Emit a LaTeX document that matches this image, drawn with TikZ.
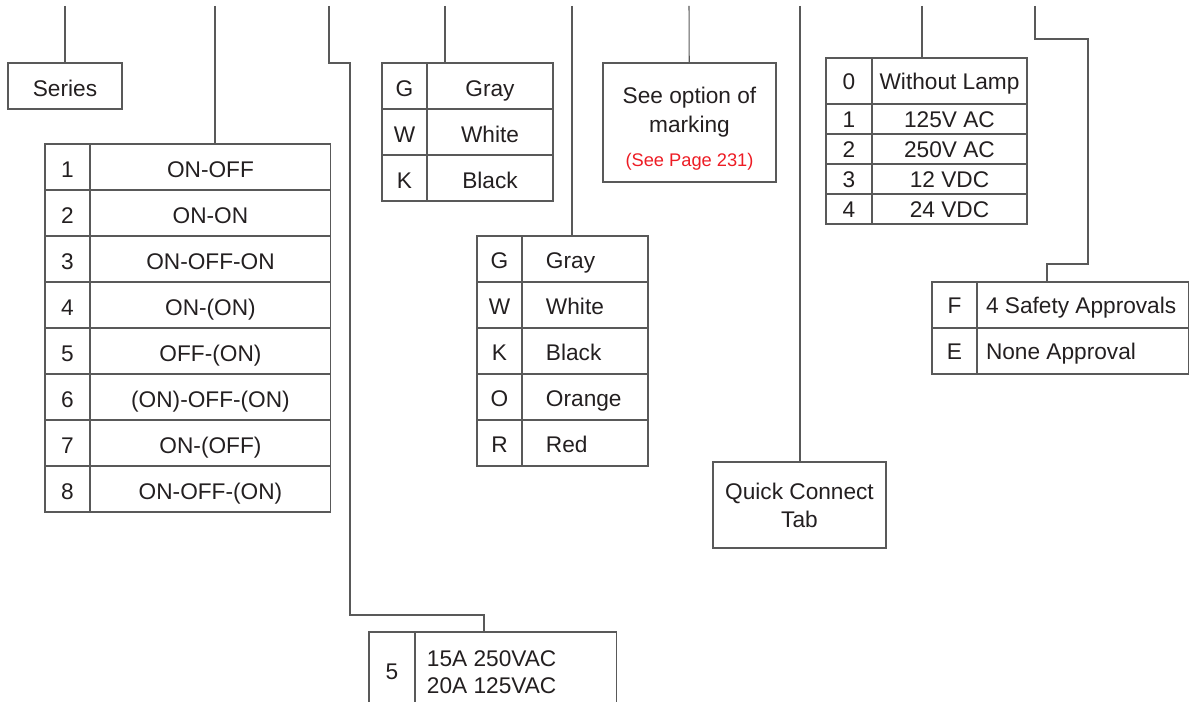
\documentclass[tikz,border=0pt]{standalone}
\usepackage{fontspec}
\setmainfont{Liberation Sans}
\usetikzlibrary{positioning}
\definecolor{inkgray}{RGB}{35,31,32}
\definecolor{pagered}{RGB}{237,28,36}
\begin{document}
\begin{tikzpicture}[x=0.02cm,y=-0.02cm,
    font=\fontsize{12.9}{15.4}\selectfont, text=inkgray,
    frame/.style={draw=black!65, line width=0.6pt, inner sep=0pt, outer sep=0pt},
    cell/.style={frame, text height=11.4pt, text depth=0pt},
    midcell/.style={frame, text height=9.4pt, text depth=0pt},
    keycell/.style={cell, minimum width=0.9cm, minimum height=0.92cm},
    lefttext/.style={execute at begin node={\spaceskip=0pt\xspaceskip=0pt}},
    wire/.style={draw=black!65, line width=0.6pt}]
  \useasboundingbox (0,0) rectangle (1190,702);
  % free ends at the top
  \coordinate (c1) at (65,6);
  \coordinate (c2) at (215,6);
  \coordinate (c3) at (329,6);
  \coordinate (c4) at (445,6);
  \coordinate (c5) at (572,6);
  \coordinate (c6) at (689,6);
  \coordinate (c7) at (800,6);
  \coordinate (c8) at (922,6);
  \coordinate (c9) at (1035,6);
  \coordinate (b3a) at (350,63);
  \coordinate (b3b) at (484,615);
  \coordinate (b9a) at (1088,39);
  \coordinate (b9b) at (1047,264);

  \node[cell, minimum width=2.28cm, minimum height=0.92cm] (series) at (65,86) {Series};

  % switch function
  \foreach \k/\t [count=\i] in {1/ON-OFF, 2/ON-ON, 3/ON-OFF-ON, 4/ON-(ON),
      5/OFF-(ON), 6/(ON)-OFF-(ON), 7/ON-(OFF), 8/ON-OFF-(ON)} {
    \node[keycell] (sw\k) at (67.5,{167+46*(\i-1)}) {\k};
    \node[cell, minimum width=4.82cm, minimum height=0.92cm, right=0pt of sw\k] (swv\k) {\t};
  }

  % rating
  \node[frame, minimum width=0.92cm, minimum height=1.6cm] (rate) at (392,672) {5};
  \node[frame, lefttext, minimum width=4.04cm, minimum height=1.6cm, inner xsep=0.24cm,
    text width=3.56cm, right=0pt of rate] (ratev) {15A 250VAC\\20A 125VAC};

  % housing colour
  \foreach \k/\t [count=\i] in {G/Gray, W/White, K/Black} {
    \node[keycell] (hc\k) at (404.5,{86+46*(\i-1)}) {\k};
    \node[cell, minimum width=2.52cm, minimum height=0.92cm, right=0pt of hc\k] (hcv\k) {\t};
  }

  % actuator colour
  \foreach \k/\t [count=\i] in {G/Gray, W/White, K/Black, O/Orange, R/Red} {
    \node[keycell, text height=10.5pt] (ac\k) at (499.5,{259+46*(\i-1)}) {\k};
    \node[cell, text height=10.5pt, minimum width=2.52cm, minimum height=0.92cm, inner xsep=0.48cm,
      text width=1.56cm, right=0pt of ac\k] (acv\k) {\t};
  }

  \node[frame, minimum width=3.46cm, minimum height=2.38cm, align=center] (mark) at (689.5,122.5)
    {\rule{0pt}{16pt}See option of\\[1pt]marking\\[4pt]{\color{pagered}\fontsize{10.4}{12}\selectfont(See Page 231)}};

  \node[frame, minimum width=3.46cm, minimum height=1.72cm, align=center] (tab) at (799.5,505)
    {Quick Connect\\[0.6pt]Tab};

  % lamp
  \node[midcell, minimum width=0.92cm, minimum height=0.92cm] (lamp0) at (849,81) {0};
  \node[midcell, minimum width=3.1cm, minimum height=0.92cm, right=0pt of lamp0] (lampv0) {Without Lamp};
  \foreach \k/\t [count=\i] in {1/125V AC, 2/250V AC, 3/12 VDC, 4/24 VDC} {
    \node[midcell, minimum width=0.92cm, minimum height=0.6cm] (lamp\k) at (849,{119+30*(\i-1)}) {\k};
    \node[midcell, minimum width=3.1cm, minimum height=0.6cm, right=0pt of lamp\k] (lampv\k) {\t};
  }

  % approvals
  \foreach \k/\t [count=\i] in {F/4 Safety Approvals, E/None Approval} {
    \node[midcell, minimum width=0.9cm, minimum height=0.92cm] (ap\k) at (954.5,{305+46*(\i-1)}) {\k};
    \node[midcell, lefttext, minimum width=4.24cm, minimum height=0.92cm, inner xsep=0.18cm,
      text width=3.88cm, right=0pt of ap\k] (apv\k) {\t};
  }

  \draw[wire] (c1) -- (series);
  \draw[wire] (c2) -- (c2 |- swv1.north);
  \draw[wire] (c3) |- (b3a) |- (b3b) -- (b3b |- ratev.north);
  \draw[wire] (c4) -- (c4 |- hcvG.north);
  \draw[wire] (c5) -- (c5 |- acvG.north);
  \draw[wire] (c6) -- (mark);
  \draw[wire] (c7) -- (c7 |- tab.north);
  \draw[wire] (c8) -- (c8 |- lampv0.north);
  \draw[wire] (c9) |- (b9a) |- (b9b) -- (b9b |- apvF.north);
\end{tikzpicture}
\end{document}
